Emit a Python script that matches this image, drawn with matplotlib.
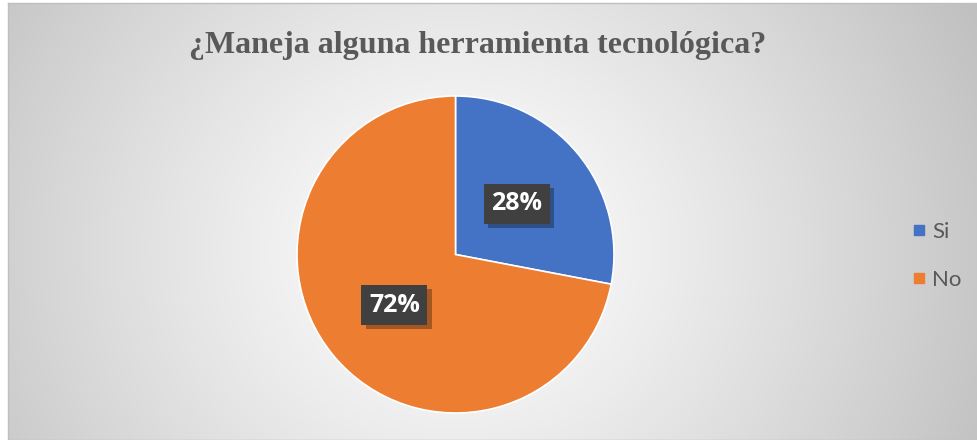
import matplotlib.pyplot as plt
import matplotlib.patheffects as pe
import numpy as np
from matplotlib.lines import Line2D

title = '¿Maneja alguna herramienta tecnológica?'
categories = ['Si', 'No']
values = [28, 72]
colors = ['#4472C4', '#ED7D31']

W, H = 978, 440
fig = plt.figure(figsize=(W / 100, H / 100), dpi=100)
fig.patch.set_facecolor('white')

# radial gradient background for the chart area
bx0, by0, bw, bh = 8, 0, 970, 437
bg = fig.add_axes([bx0 / W, by0 / H, bw / W, bh / H])
yy, xx = np.mgrid[0:bh, 0:bw]
cx, cy = 455, 250
d = np.hypot((xx + bx0 - cx), (yy + 3 - cy) * 1.1)
d = d / d.max()
g = 1 - 0.25 * d ** 1.2
bg.imshow(np.dstack([g, g, g]), aspect='auto', extent=(0, 1, 0, 1), origin='upper')
bg.set_xticks([])
bg.set_yticks([])
for s in bg.spines.values():
    s.set_color('#bfbfbf')
    s.set_linewidth(1)

# pie
r = 158.5
pcx, pcy = 455.5, H - 254.5
ax = fig.add_axes([(pcx - r) / W, (pcy - r) / H, 2 * r / W, 2 * r / H])
wedges, texts, autotexts = ax.pie(values, colors=colors, startangle=90, counterclock=False,
                                  autopct='%1.0f%%', pctdistance=0.5,
                                  wedgeprops=dict(edgecolor='white', linewidth=1.2),
                                  textprops=dict(color='white', fontsize=18, fontweight='bold',
                                                 family='Open Sans'))
ax.set_xlim(-1, 1)
ax.set_ylim(-1, 1)
ax.set_aspect('equal')

for t in autotexts:
    t.set_bbox(dict(boxstyle='square,pad=0.3', facecolor='#404040', edgecolor='none'))
    t.get_bbox_patch().set_path_effects([pe.withSimplePatchShadow(offset=(3, -3),
                                                                  shadow_rgbFace='black', alpha=0.3),
                                         pe.Normal()])

fig.text(478 / W, 1 - 45 / H, title, ha='center', va='center', fontsize=23,
         fontweight='bold', family='Liberation Serif', color='#595959')

handles = [Line2D([], [], marker='s', linestyle='none', markersize=7.5,
                  markerfacecolor=c, markeredgecolor=c) for c in colors]
leg = fig.legend(handles, categories, loc='center left', bbox_to_anchor=(888 / W, 1 - 256 / H),
                 frameon=False, labelspacing=1.25, handletextpad=0.1,
                 handlelength=1.0, prop=dict(family='Lato', size=16))
for t in leg.get_texts():
    t.set_color('#595959')

fig.savefig('out.png', dpi=100)
